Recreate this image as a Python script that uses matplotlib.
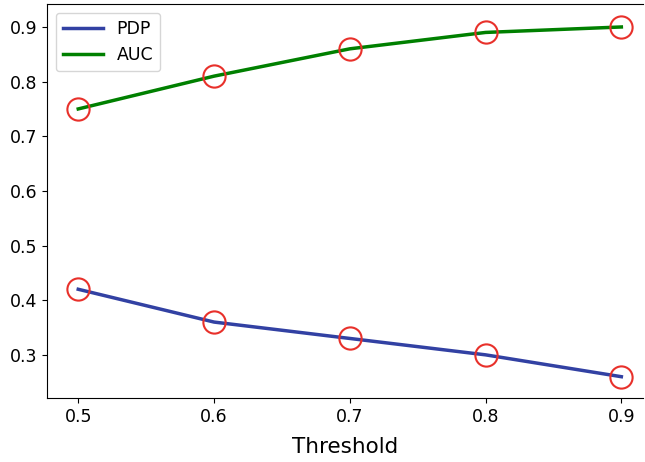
import matplotlib
matplotlib.use("Agg")
import matplotlib.pyplot as plt

threshold = [0.5, 0.6, 0.7, 0.8, 0.9]
pdp = [0.42, 0.36, 0.33, 0.30, 0.26]
auc = [0.75, 0.81, 0.86, 0.89, 0.90]

fig = plt.figure(figsize=(6.45, 4.62), dpi=100)
ax = fig.add_axes([0.0729, 0.1385, 0.9241, 0.8528])
ax.plot(threshold, pdp, color="#3241a3", linewidth=2.5, label="PDP")
ax.plot(threshold, auc, color="green", linewidth=2.5, label="AUC")
# red open circles on the data points
ax.plot(threshold, pdp, "o", markersize=16, markerfacecolor="none",
        markeredgecolor="#e8302a", markeredgewidth=1.5)
ax.plot(threshold, auc, "o", markersize=16, markerfacecolor="none",
        markeredgecolor="#e8302a", markeredgewidth=1.5)
ax.set_xlim(0.477, 0.916)
ax.set_ylim(0.221, 0.942)
ax.set_xticks(threshold)
ax.tick_params(labelsize=12.5)
ax.set_xlabel("Threshold", fontsize=15.5, labelpad=8)
ax.legend(fontsize=12.5, loc="upper left", handlelength=2.3)
# reference image is cut off at the right edge
ax.spines["right"].set_visible(False)
fig.savefig("out.png", dpi=100)
